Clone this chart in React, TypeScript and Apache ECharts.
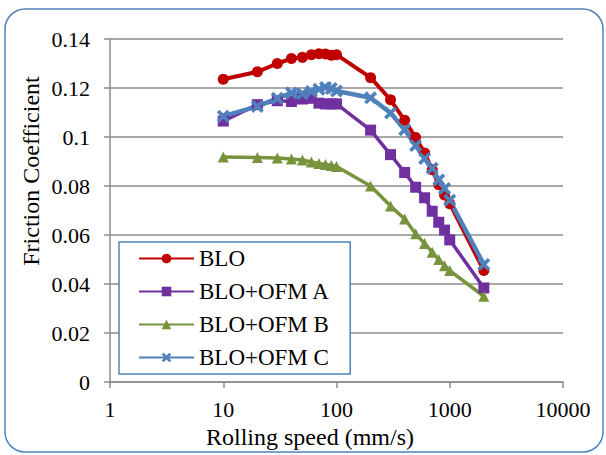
import React, { useEffect, useRef } from "react";
import * as echarts from "echarts";

const speeds = [10, 20, 30, 40, 50, 60, 70, 80, 90, 100, 200, 300, 400, 500, 600, 700, 800, 900, 1000, 2000];
const blo = [0.1236, 0.1266, 0.13, 0.132, 0.1325, 0.1336, 0.134, 0.1339, 0.1334, 0.1336, 0.1242, 0.1152, 0.1068, 0.0998, 0.0935, 0.0866, 0.0805, 0.0763, 0.0728, 0.0455];
const ofmA = [0.1065, 0.1132, 0.1148, 0.1145, 0.1155, 0.1158, 0.1138, 0.1135, 0.1135, 0.1135, 0.1028, 0.0928, 0.0855, 0.0795, 0.0752, 0.0697, 0.0652, 0.062, 0.058, 0.0384];
const ofmB = [0.0918, 0.0916, 0.0914, 0.091, 0.0906, 0.0898, 0.0892, 0.0888, 0.0884, 0.088, 0.08, 0.0718, 0.0665, 0.0605, 0.0565, 0.053, 0.05, 0.0475, 0.0455, 0.035];
const ofmC = [0.1085, 0.1125, 0.1158, 0.118, 0.1177, 0.1186, 0.1195, 0.1202, 0.1198, 0.1188, 0.116, 0.1098, 0.103, 0.0965, 0.0912, 0.0872, 0.0825, 0.079, 0.0742, 0.048];
const seriesNames = ["BLO", "BLO+OFM A", "BLO+OFM B", "BLO+OFM C"];
const xTitle = "Rolling speed (mm/s)";
const yTitle = "Friction Coefficient";

const FONT = "Liberation Serif";
const X_PATH = "path://M2,0 L5,3 L8,0 L10,2 L7,5 L10,8 L8,10 L5,7 L2,10 L0,8 L3,5 L0,2 Z";

export default function App() {
  const ref = useRef<HTMLDivElement>(null);
  useEffect(() => {
    if (!ref.current) return;
    const chart = echarts.init(ref.current, undefined, { renderer: "svg" });
    const pair = (vals: number[]) => speeds.map((s, i) => [s, vals[i]]);
    const axisGray = "#8c8c8c";
    const mk = (name: string, vals: number[], color: string, symbol: string, size: number, width: number) => ({
      name,
      type: "line",
      data: pair(vals),
      symbol,
      symbolSize: size,
      lineStyle: { color, width },
      itemStyle: { color },
      emphasis: { disabled: true },
    });
    chart.setOption({
      animation: false,
      backgroundColor: "#fff",
      grid: { left: 110, right: 43, top: 39, bottom: 73 },
      xAxis: {
        type: "log",
        logBase: 10,
        min: 1,
        max: 10000,
        axisLine: { show: true, lineStyle: { color: axisGray, width: 1.5 } },
        axisTick: { show: true, length: 6, lineStyle: { color: axisGray, width: 1.5 } },
        minorTick: { show: false },
        splitLine: { show: false },
        axisLabel: {
          color: "#000",
          fontSize: 22,
          fontFamily: FONT,
          margin: 16,
          formatter: (v: number) => String(Math.round(v)),
        },
      },
      yAxis: {
        type: "value",
        min: 0,
        max: 0.14,
        interval: 0.02,
        axisLine: { show: true, lineStyle: { color: axisGray, width: 1.5 } },
        axisTick: { show: true, length: 6, lineStyle: { color: axisGray, width: 1.5 } },
        splitLine: { show: true, lineStyle: { color: axisGray, width: 1.5 } },
        axisLabel: {
          color: "#000",
          fontSize: 22,
          fontFamily: FONT,
          margin: 20,
          formatter: (v: number) => (v === 0 ? "0" : String(parseFloat(v.toFixed(2)))),
        },
      },
      legend: {
        orient: "vertical",
        left: 119,
        top: 242,
        data: seriesNames,
        backgroundColor: "#fff",
        borderColor: "#4F81BD",
        borderWidth: 1.5,
        padding: [5, 20, 5, 19],
        itemGap: 10,
        itemWidth: 55,
        itemHeight: 12,
        textStyle: { color: "#000", fontSize: 23, fontFamily: FONT },
      },
      graphic: [
        {
          type: "rect",
          shape: { x: 5, y: 9, width: 598, height: 443, r: 20 },
          style: { fill: "none", stroke: "#4F81BD", lineWidth: 1.5 },
          silent: true,
          z: 100,
        },
        {
          type: "text",
          x: 310,
          y: 437,
          style: { text: xTitle, fontSize: 24, fontFamily: FONT, fill: "#000", align: "center", verticalAlign: "middle" },
        },
        {
          type: "text",
          x: 31,
          y: 171,
          rotation: Math.PI / 2,
          style: { text: yTitle, fontSize: 24, fontFamily: FONT, fill: "#000", align: "center", verticalAlign: "middle" },
        },
      ],
      series: [
        mk(seriesNames[0], blo, "#C00000", "circle", 11, 4),
        mk(seriesNames[1], ofmA, "#7030A0", "rect", 11, 3.5),
        mk(seriesNames[2], ofmB, "#77933C", "triangle", 11, 3.5),
        mk(seriesNames[3], ofmC, "#4F81BD", X_PATH, 13, 4.5),
      ],
    });
    return () => chart.dispose();
  }, []);
  return <div ref={ref} style={{ position: "fixed", left: 0, top: 0, width: 606, height: 455 }} />;
}
